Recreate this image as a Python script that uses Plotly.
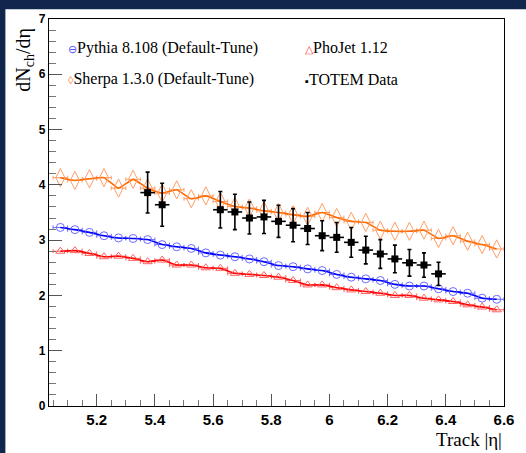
"""dN_ch/deta vs track |eta|: TOTEM data against generator predictions."""

import plotly.graph_objects as go

# bin centres of the generator histograms
eta_bins = [5.075, 5.125, 5.175, 5.225, 5.275, 5.325, 5.375, 5.425, 5.475, 5.525,
            5.575, 5.625, 5.675, 5.725, 5.775, 5.825, 5.875, 5.925, 5.975, 6.025,
            6.075, 6.125, 6.175, 6.225, 6.275, 6.325, 6.375, 6.425, 6.475, 6.525,
            6.575]
pythia = [3.23, 3.19, 3.14, 3.08, 3.04, 3.03, 3.01, 2.92, 2.88, 2.85,
          2.77, 2.73, 2.70, 2.66, 2.61, 2.54, 2.52, 2.48, 2.45, 2.38,
          2.33, 2.30, 2.27, 2.20, 2.17, 2.17, 2.12, 2.07, 2.04, 1.95,
          1.93]
phojet = [2.80, 2.81, 2.76, 2.70, 2.71, 2.67, 2.61, 2.64, 2.55, 2.55,
          2.50, 2.49, 2.40, 2.38, 2.36, 2.33, 2.27, 2.19, 2.19, 2.14,
          2.10, 2.07, 2.04, 2.00, 2.00, 1.95, 1.92, 1.89, 1.83, 1.79,
          1.74]
sherpa = [4.13, 4.08, 4.11, 4.13, 3.94, 4.10, 3.94, 3.85, 3.91, 3.75,
          3.80, 3.70, 3.61, 3.58, 3.53, 3.50, 3.46, 3.43, 3.50, 3.41,
          3.34, 3.32, 3.18, 3.16, 3.16, 3.18, 3.03, 3.08, 2.98, 2.92,
          2.84]

# TOTEM measurement
totem_eta = [5.375, 5.425, 5.625, 5.675, 5.725, 5.775, 5.825, 5.875, 5.925,
             5.975, 6.025, 6.075, 6.125, 6.175, 6.225, 6.275, 6.325, 6.375]
totem_val = [3.86, 3.64, 3.55, 3.51, 3.40, 3.42, 3.34, 3.27, 3.21,
             3.08, 3.05, 2.96, 2.82, 2.75, 2.66, 2.59, 2.55, 2.39]
totem_err = [0.37, 0.39, 0.33, 0.32, 0.29, 0.30, 0.29, 0.30, 0.29,
             0.27, 0.27, 0.27, 0.25, 0.26, 0.25, 0.24, 0.22, 0.21]

half_bin = 0.025

# plot frame in pixels (526 x 453 page)
W, H = 526, 453
L, R, T, B = 49, 508, 14, 406


def px_x(px):
    return (px - L) / (R - L)


def px_y(py):
    return (B - py) / (B - T)


fig = go.Figure()

models = [
    ("Pythia", pythia, "#0000ff", "#6b6bff", "circle-open", 8),
    ("PhoJet", phojet, "#ff0000", "#ff6060", "triangle-up-open", 8),
    ("Sherpa", sherpa, "#ff6a00", "#ff9e66", "diamond-tall-open", 13),
]
for name, vals, line_col, mk_col, symbol, size in models:
    fig.add_trace(
        go.Scatter(
            x=eta_bins,
            y=vals,
            name=name,
            mode="lines+markers",
            line=dict(color=line_col, width=1.6, shape="spline", smoothing=0.4),
            marker=dict(symbol=symbol, size=size, color=mk_col,
                        line=dict(color=mk_col, width=1)),
            error_x=dict(type="constant", value=half_bin, color=mk_col,
                         thickness=1, width=2),
            showlegend=False,
        )
    )

fig.add_trace(
    go.Scatter(
        x=totem_eta,
        y=totem_val,
        name="TOTEM Data",
        mode="markers",
        marker=dict(symbol="square", size=7, color="black"),
        error_x=dict(type="constant", value=half_bin, color="black",
                     thickness=1.6, width=0),
        error_y=dict(type="data", array=totem_err, color="black",
                     thickness=1.6, width=2),
        showlegend=False,
    )
)

serif = "Liberation Serif, Times New Roman, serif"
legend_rows = [
    ("\u2296", "#5050ff", "Pythia 8.108 (Default-Tune)", 66, 43),
    ("\u25b3", "#ff4040", "PhoJet 1.12", 305, 43),
    ("\u25ca", "#ff8a40", "Sherpa 1.3.0 (Default-Tune)", 66, 75),
    ("\u25aa", "black", "TOTEM Data", 305, 75),
]
annotations = []
for sym, col, label, x0, y0 in legend_rows:
    annotations.append(
        dict(
            text=f"<span style='color:{col};font-size:11px'>{sym}</span>{label}",
            xref="paper", yref="paper", x=px_x(x0), y=px_y(y0),
            xanchor="left", yanchor="middle", showarrow=False,
            font=dict(family=serif, size=16, color="black"),
        )
    )

annotations.append(
    dict(
        text="dN<sub>ch</sub>/d\u03b7",
        xref="paper", yref="paper", x=px_x(24), y=px_y(55),
        xanchor="center", yanchor="middle", textangle=-90, showarrow=False,
        font=dict(family=serif, size=20, color="black"),
    )
)
annotations.append(
    dict(
        text="Track |\u03b7|",
        xref="paper", yref="paper", x=1.0, y=px_y(440),
        xanchor="right", yanchor="middle", showarrow=False,
        font=dict(family=serif, size=19, color="black"),
    )
)

tick_font = dict(family="Liberation Sans, Arial, sans-serif", color="black",
                 weight="bold")

fig.update_layout(
    width=W,
    height=H,
    margin=dict(l=L, r=W - R, t=T, b=H - B),
    paper_bgcolor="#10264a",
    plot_bgcolor="white",
    annotations=annotations,
    shapes=[
        dict(type="rect", xref="paper", yref="paper", layer="below",
             x0=px_x(5), x1=px_x(W + 5), y0=px_y(H + 5), y1=px_y(4),
             fillcolor="white", line=dict(width=0)),
    ],
    xaxis=dict(
        range=[5.036, 6.6001],
        tick0=5.0, dtick=0.2,
        ticks="inside", ticklen=12, tickcolor="#555", tickwidth=1,
        minor=dict(dtick=0.05, tick0=5.0, ticks="inside", ticklen=6,
                   tickcolor="#777"),
        tickfont=dict(size=15, **tick_font),
        showline=True, linecolor="black", linewidth=1.2, mirror=True,
        showgrid=False, zeroline=False,
    ),
    yaxis=dict(
        range=[0, 7],
        dtick=1,
        ticks="inside", ticklen=13, tickcolor="#555", tickwidth=1,
        minor=dict(dtick=0.2, ticks="inside", ticklen=7, tickcolor="#777"),
        tickfont=dict(size=12, **tick_font),
        showline=True, linecolor="black", linewidth=1.2, mirror=True,
        showgrid=False, zeroline=False,
    ),
)

# drop the browser's default body margin so the figure sits at the page corner
fig.write_html(
    "out.html",
    config={"displayModeBar": False},
    post_script="document.body.style.margin = '0';",
)
